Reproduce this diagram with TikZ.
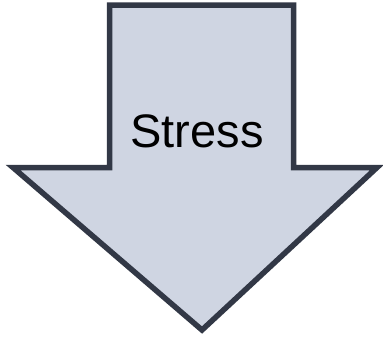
\documentclass[tikz,border=0pt]{standalone}
\usepackage{fontspec}
\setmainfont{Liberation Sans}
\definecolor{arrowfill}{RGB}{207,213,226}
\definecolor{arrowline}{RGB}{50,56,70}
\tikzset{
  bigarrow/.style={draw=arrowline, fill=arrowfill, line width=5.5pt, line join=miter, miter limit=10},
  label/.style={font=\fontsize{47}{56}\selectfont, text=black, inner sep=0pt}
}
\begin{document}
\begin{tikzpicture}[x=1pt,y=-1pt]
\useasboundingbox (0,0) rectangle (383,338);
\draw[bigarrow] (109.5,5) -- (293.5,5) -- (293.5,167.5) -- (377,167.5) -- (202,330) -- (13,167.5) -- (109.5,167.5) -- cycle;
\node[label, anchor=base] (stress) at (197,147) {Stress};
\end{tikzpicture}
\end{document}
